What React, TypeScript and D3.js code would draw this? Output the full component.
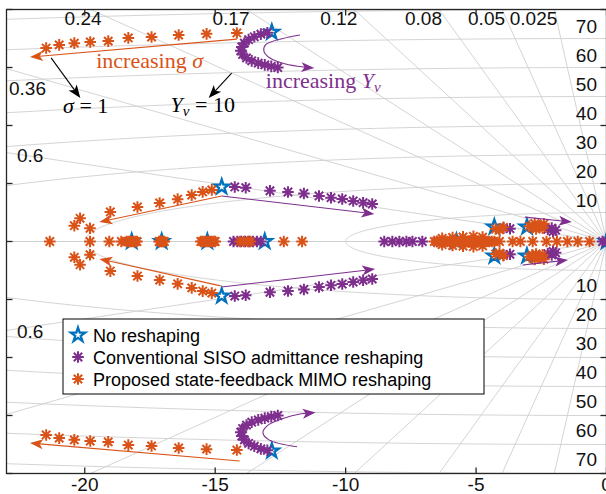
import React from "react";
import * as d3 from "d3";

const WIDTH = 606;
const HEIGHT = 494;

// Axis ticks
const xTicks = [-20, -15, -10, -5, 0];
const yTicks = [-80, -60, -40, -20, 0, 20, 40, 60, 80];

// s-plane grid: damping ratios and natural frequencies
const dampingRatios = [0.025, 0.05, 0.08, 0.12, 0.17, 0.24, 0.36, 0.6];
const naturalFreqs = [10, 20, 30, 40, 50, 60, 70, 80];
const freqLabels = [10, 20, 30, 40, 50, 60, 70];

// Pole locations [real, imag]; complex poles listed with imag > 0 (conjugates drawn too)
const noReshapingReal = [-18.2, -17.05, -15.3, -13.1, -5.75, 0];
const noReshapingComplex: [number, number][] = [
  [-12.83, 72.2], [-14.75, 18.8], [-4.3, 5.0], [-3.05, 5.0],
];

const sisoReal = [
  -14.3, -14.15, -14.0, -13.85, -13.7, -13.55, -13.4, -13.25,
  -8.52, -8.21, -7.94, -7.67, -7.44, -7.06,
  -6.5, -6.25, -6.0, -5.8, -5.6, -0.15, 0,
];
const sisoComplex: [number, number][] = [
  [-13.0, 72.0], [-13.25, 71.5], [-13.5, 70.6], [-13.72, 69.6], [-13.88, 68.4],
  [-13.98, 67.1], [-14.02, 65.8], [-13.95, 64.5], [-13.8, 63.3], [-13.6, 62.3],
  [-13.35, 61.5], [-13.1, 60.9], [-12.85, 60.4], [-12.6, 60.0],
  [-14.25, 18.8], [-13.83, 18.55], [-12.9, 17.5], [-12.21, 17.07], [-11.6, 16.55],
  [-11.02, 15.7], [-10.56, 15.1], [-10.13, 14.66], [-9.71, 13.97], [-9.33, 13.38], [-8.98, 12.93],
  [-3.95, 4.6], [-3.7, 4.4], [-2.25, 4.2], [-2.1, 4.6], [-1.95, 3.9], [-2.05, 3.4],
];

const mimoReal = [
  -21.34, -19.8, -19.06, -18.6,
  -18.4, -18.33, -18.26, -18.2, -18.13, -18.06, -18.0,
  -17.15, -17.1, -17.05, -17.0, -16.95,
  -15.55, -15.48, -15.41, -15.34, -15.27, -15.2, -15.13, -15.06, -15.0,
  -14.05, -13.9, -13.75, -13.65, -12.37, -11.67,
  -6.6, -6.5, -6.4, -6.3, -6.2, -6.1, -6.0, -5.9, -5.8, -5.7, -5.6, -5.5, -5.4,
  -5.3, -5.2, -5.1, -5.0, -4.9, -4.8, -4.7, -4.6, -4.5, -4.4, -4.3,
  -4.1, -3.6, -3.3, -2.83, -2.3, -1.9, -1.5, -1.1, -0.65,
];
const mimoComplex: [number, number][] = [
  [-21.48, 66.7], [-20.98, 67.8], [-20.4, 68.4], [-19.79, 68.8], [-19.1, 69.1],
  [-18.33, 70.2], [-17.44, 70.5], [-16.4, 71.2], [-15.33, 71.6], [-14.17, 71.9],
  [-15.13, 17.8], [-15.48, 17.1], [-15.9, 16.0], [-16.44, 14.6], [-17.13, 13.3],
  [-17.98, 11.9], [-19.02, 10.2], [-20.18, 8.0], [-20.4, 5.45], [-19.8, 4.55],
  [-6.3, 1.1], [-5.9, 1.4], [-5.5, 1.6], [-5.1, 1.8], [-4.75, 1.5],
  [-4.25, 4.3], [-3.95, 4.9], [-4.1, 4.0],
  [-2.95, 5.3], [-2.75, 6.2], [-2.55, 5.4], [-2.4, 6.1], [-2.7, 4.3], [-2.45, 4.6],
  [-2.85, 4.7], [-2.6, 5.0],
];

const BLUE = "#0072BD";
const ORANGE = "#D95319";
const PURPLE = "#7E2F8E";
const GRID = "#cfcfcf";
const AXIS = "#262626";

// Annotation arrows, in data units (last point is the tip)
const arrowPaths: { color: string; pts: [number, number][] }[] = [
  { color: ORANGE, pts: [[-14.17, 69.8], [-22.1, 63.6]] },
  { color: ORANGE, pts: [[-14.06, -75.7], [-22.1, -69.5]] },
  { color: ORANGE, pts: [[-14.75, 15.7], [-19.44, 6.7]] },
  { color: ORANGE, pts: [[-14.79, -15.3], [-19.44, -6.0]] },
  { color: PURPLE, pts: [[-14.75, 15.7], [-8.9, 9.5]] },
  { color: PURPLE, pts: [[-14.75, -15.7], [-8.87, -9.5]] },
  { color: PURPLE, pts: [[-3.13, 8.4], [-1.33, 6.7]] },
  { color: PURPLE, pts: [[-3.21, -8.1], [-1.48, -6.4]] },
  { color: PURPLE, pts: [[-11.75, 71.2], [-13.07, 67.8], [-13.13, 65.6], [-12.9, 63.3], [-12.3, 61.2], [-11.5, 60.0], [-11.2, 59.8]] },
  { color: PURPLE, pts: [[-11.86, -70.8], [-12.94, -68.4], [-13.17, -66.0], [-13.0, -63.5], [-12.4, -61.0], [-11.7, -59.4], [-11.15, -59.0]] },
  { color: "#000000", pts: [[-21.29, 63.3], [-20.17, 49.5]] },
  { color: "#000000", pts: [[-14.37, 58.1], [-15.25, 49.5]] },
];

const x = d3.scaleLinear().domain([-23, 0]).range([6.5, 606.5]);
const y = d3.scaleLinear().domain([-80, 80]).range([473.5, 9.5]);

const withConjugates = (pts: [number, number][]) =>
  pts.flatMap(([re, im]) => [[re, im], [re, -im]] as [number, number][]);
const onRealAxis = (vals: number[]) => vals.map((re) => [re, 0] as [number, number]);

function starPath(cx: number, cy: number, R: number) {
  const r = R * 0.382;
  const pts: string[] = [];
  for (let i = 0; i < 10; i++) {
    const a = -Math.PI / 2 + (i * Math.PI) / 5;
    const rr = i % 2 === 0 ? R : r;
    pts.push(`${cx + rr * Math.cos(a)},${cy + rr * Math.sin(a)}`);
  }
  return "M" + pts.join("L") + "Z";
}

function asteriskPath(cx: number, cy: number, R: number) {
  const d = R * 0.72;
  return (
    `M${cx - R},${cy}L${cx + R},${cy}` +
    `M${cx},${cy - R}L${cx},${cy + R}` +
    `M${cx - d},${cy - d}L${cx + d},${cy + d}` +
    `M${cx - d},${cy + d}L${cx + d},${cy - d}`
  );
}

function Star({ cx, cy }: { cx: number; cy: number }) {
  return <path d={starPath(cx, cy, 7.5)} fill="none" stroke={BLUE} strokeWidth={2.3} strokeLinejoin="miter" />;
}
function Asterisk({ cx, cy, color }: { cx: number; cy: number; color: string }) {
  return <path d={asteriskPath(cx, cy, 5.8)} fill="none" stroke={color} strokeWidth={2} />;
}

function Arrow({ color, pts }: { color: string; pts: [number, number][] }) {
  const px = pts.map(([a, b]) => [x(a), y(b)] as [number, number]);
  const tip = px[px.length - 1];
  const prev = px[px.length - 2];
  const dx = tip[0] - prev[0];
  const dy = tip[1] - prev[1];
  const L = Math.hypot(dx, dy);
  const ux = dx / L, uy = dy / L;
  const nx = -uy, ny = ux;
  const len = 13, wid = 10;
  const bx = tip[0] - ux * len, by = tip[1] - uy * len;
  const notchX = tip[0] - ux * len * 0.75, notchY = tip[1] - uy * len * 0.75;
  const shaft = px.slice(0, -1).concat([[notchX, notchY]]);
  const line = px.length > 2
    ? d3.line().curve(d3.curveCatmullRom.alpha(0.5))(shaft)
    : d3.line()(shaft);
  const head = `M${tip[0]},${tip[1]}L${bx + nx * wid / 2},${by + ny * wid / 2}L${notchX},${notchY}L${bx - nx * wid / 2},${by - ny * wid / 2}Z`;
  return (
    <g>
      <path d={line || ""} fill="none" stroke={color} strokeWidth={1.1} />
      <path d={head} fill={color} stroke="none" />
    </g>
  );
}

export default function App() {
  const left = 6.5, right = 606.5, top = 9.5, bottom = 473.5;
  const lineGen = d3.line();

  const circles = naturalFreqs.map((wn) => {
    const pts = d3.range(0, 201).map((i) => {
      const a = Math.PI / 2 + (i / 200) * Math.PI;
      return [x(wn * Math.cos(a)), y(wn * Math.sin(a))] as [number, number];
    });
    return lineGen(pts);
  });

  const rays = dampingRatios.concat([1]).flatMap((z) => {
    const s = Math.sqrt(1 - z * z);
    const R = 300;
    return [1, -1].map((sg) => lineGen([[x(0), y(0)], [x(-R * z), y(sg * R * s)]]));
  });

  const font = "'Liberation Sans', Arial, Helvetica, sans-serif";
  const serif = "'Liberation Serif', 'Times New Roman', serif";

  // Damping labels: along the top edge, right-aligned near the ray
  const topLabels = dampingRatios.filter((z) => z <= 0.25).map((z) => {
    const slope = Math.sqrt(1 - z * z) / z;
    return { z, px: x(-80 / slope) + (z > 0.2 ? 11 : 3) };
  });
  const leftLabels = [
    { z: 0.36, sign: 1, dy: 26, dx: 9 },
    { z: 0.6, sign: 1, dy: 9.5, dx: 17 },
    { z: 0.6, sign: -1, dy: 7.5, dx: 17 },
  ].map((d) => {
    const slope = Math.sqrt(1 - d.z * d.z) / d.z;
    return { ...d, py: y(d.sign * slope * 23) + d.dy };
  });

  const base = withConjugates(noReshapingComplex).concat(onRealAxis(noReshapingReal));
  const siso = withConjugates(sisoComplex).concat(onRealAxis(sisoReal));
  const mimo = withConjugates(mimoComplex).concat(onRealAxis(mimoReal));

  return (
    <svg width={WIDTH} height={HEIGHT} style={{ position: "absolute", left: 0, top: 0, background: "#fff" }}>
      <defs>
        <clipPath id="plotArea">
          <rect x={left} y={top} width={right - left} height={bottom - top} />
        </clipPath>
      </defs>
      <rect x={0} y={0} width={WIDTH} height={HEIGHT} fill="#fff" />

      <g clipPath="url(#plotArea)">
        {circles.map((d, i) => (
          <path key={"c" + i} d={d || ""} fill="none" stroke={GRID} strokeWidth={0.9} />
        ))}
        {rays.map((d, i) => (
          <path key={"r" + i} d={d || ""} fill="none" stroke={GRID} strokeWidth={0.9} />
        ))}
      </g>

      {/* grid labels */}
      <g fontFamily={font} fontSize={19} fill="#111">
        {topLabels.map((l) => (
          <text key={"t" + l.z} x={l.px} y={25} textAnchor="end">{String(l.z)}</text>
        ))}
        {leftLabels.map((l, i) => (
          <text key={"l" + i} x={l.dx} y={l.py} textAnchor="start">{String(l.z)}</text>
        ))}
        {freqLabels.map((wn) => (
          <g key={"f" + wn}>
            <text x={597} y={y(wn) - 12.5 + 7} textAnchor="end">{wn}</text>
            <text x={597} y={y(-wn) + 14.5 + 7} textAnchor="end">{wn}</text>
          </g>
        ))}
      </g>

      {/* axes box with ticks */}
      <g stroke={AXIS} strokeWidth={1.3} fill="none">
        <rect x={left} y={top} width={right - left} height={bottom - top} />
        {xTicks.map((t) => (
          <g key={"xt" + t}>
            <line x1={x(t)} x2={x(t)} y1={bottom} y2={bottom - 6} />
            <line x1={x(t)} x2={x(t)} y1={top} y2={top + 6} />
          </g>
        ))}
        {yTicks.map((t) => (
          <g key={"yt" + t}>
            <line x1={left} x2={left + 6} y1={y(t)} y2={y(t)} />
            <line x1={right} x2={right - 6} y1={y(t)} y2={y(t)} />
          </g>
        ))}
      </g>
      <g fontFamily={font} fontSize={19} fill="#111" textAnchor="middle">
        {xTicks.map((t) => (
          <text key={"xl" + t} x={x(t)} y={491}>{t}</text>
        ))}
      </g>

      {/* pole markers */}
      <g clipPath="url(#plotArea)">
        {base.map(([re, im], i) => (
          <Star key={"b" + i} cx={x(re)} cy={y(im)} />
        ))}
        {siso.map(([re, im], i) => (
          <Asterisk key={"s" + i} cx={x(re)} cy={y(im)} color={PURPLE} />
        ))}
        {mimo.map(([re, im], i) => (
          <Asterisk key={"m" + i} cx={x(re)} cy={y(im)} color={ORANGE} />
        ))}
      </g>

      {/* annotations */}
      {arrowPaths.map((a, i) => (
        <Arrow key={"a" + i} color={a.color} pts={a.pts} />
      ))}
      <g fontFamily={serif} fontSize={22}>
        <text x={x(-19.56)} y={y(59.8)} fill={ORANGE}>
          increasing <tspan fontStyle="italic">σ</tspan>
        </text>
        <text x={x(-20.83)} y={y(44.3)} fill="#000">
          <tspan fontStyle="italic">σ</tspan> = 1
        </text>
        <text x={x(-16.71)} y={y(44.7)} fill="#000">
          <tspan fontStyle="italic">Y</tspan>
          <tspan fontStyle="italic" fontSize={15} dy={4}>v</tspan>
          <tspan dy={-4}> = 10</tspan>
        </text>
        <text x={x(-13.06)} y={y(52.9)} fill={PURPLE}>
          increasing <tspan fontStyle="italic">Y</tspan>
          <tspan fontStyle="italic" fontSize={15} dy={4}>v</tspan>
        </text>
      </g>

      {/* legend */}
      <g>
        <rect x={63} y={319} width={421} height={75} fill="#fff" stroke="#000" strokeWidth={1} />
        <Star cx={78} cy={335} />
        <Asterisk cx={78} cy={357} color={PURPLE} />
        <Asterisk cx={78} cy={379} color={ORANGE} />
        <g fontFamily={font} fontSize={18} fill="#000">
          <text x={93} y={341.5}>No reshaping</text>
          <text x={93} y={363.5}>Conventional SISO admittance reshaping</text>
          <text x={93} y={385.5}>Proposed state-feedback MIMO reshaping</text>
        </g>
      </g>
    </svg>
  );
}
